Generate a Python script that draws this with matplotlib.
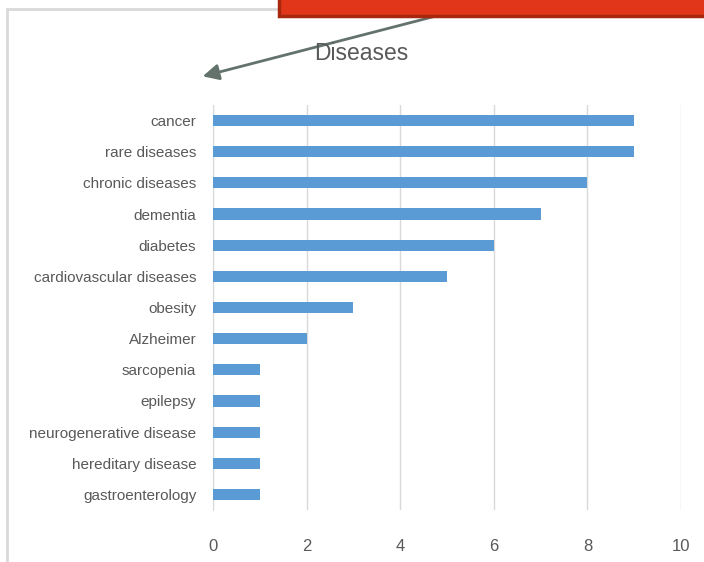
import matplotlib.pyplot as plt
import matplotlib.patches as mpatches

categories = ["cancer", "rare diseases", "chronic diseases", "dementia", "diabetes",
              "cardiovascular diseases", "obesity", "Alzheimer", "sarcopenia", "epilepsy",
              "neurogenerative disease", "hereditary disease", "gastroenterology"]
counts = [9, 9, 8, 7, 6, 5, 3, 2, 1, 1, 1, 1, 1]
xticks = [0, 2, 4, 6, 8, 10]

plt.rcParams['font.family'] = ['Liberation Sans', 'DejaVu Sans']

W, H = 704, 562
fig = plt.figure(figsize=(W / 100, H / 100), dpi=100)
ax = fig.add_axes([213 / W, 1 - 510 / H, (681 - 213) / W, (510 - 105) / H])

# outer chart frame
frame = mpatches.Rectangle((7 / W, -0.1), 1.2, 1 - 9 / H + 0.1, transform=fig.transFigure,
                           fill=False, edgecolor='#d9d9d9', linewidth=2, zorder=0)
fig.patches.append(frame)

# red box at the top
red = mpatches.Rectangle((279 / W, 1 - 16 / H), 0.7, 0.1, transform=fig.transFigure,
                         facecolor='#e2361a', edgecolor='#a8270f', linewidth=2.5, zorder=5)
fig.patches.append(red)

ypos = list(range(len(categories)))[::-1]
ax.barh(ypos, counts, height=0.36, color='#5b9bd5', zorder=3)

ax.set_xlim(0, 10)
ax.set_ylim(-0.5, len(categories) - 0.5)
ax.set_xticks(xticks)
ax.set_xticklabels([str(t) for t in xticks], fontsize=12, color='#595959')
ax.set_yticks(ypos)
ax.set_yticklabels(categories, fontsize=11, color='#595959')
ax.tick_params(axis='both', length=0)
ax.tick_params(axis='x', pad=21)
ax.tick_params(axis='y', pad=12)
ax.grid(axis='x', color='#d9d9d9', linewidth=1, zorder=0)
for s in ['top', 'right', 'bottom']:
    ax.spines[s].set_visible(False)
ax.spines['left'].set_color('#d9d9d9')

fig.text(361 / W, 1 - 53 / H, "Diseases", fontsize=16.5, color='#595959', ha='center', va='center')

ax.annotate("", xy=(200 / W, 1 - 77 / H), xytext=(440 / W, 1 - 15 / H),
            xycoords='figure fraction', textcoords='figure fraction',
            arrowprops=dict(arrowstyle='-|>', color='#63736c', lw=2, mutation_scale=24))

fig.savefig("out.png", dpi=100)
